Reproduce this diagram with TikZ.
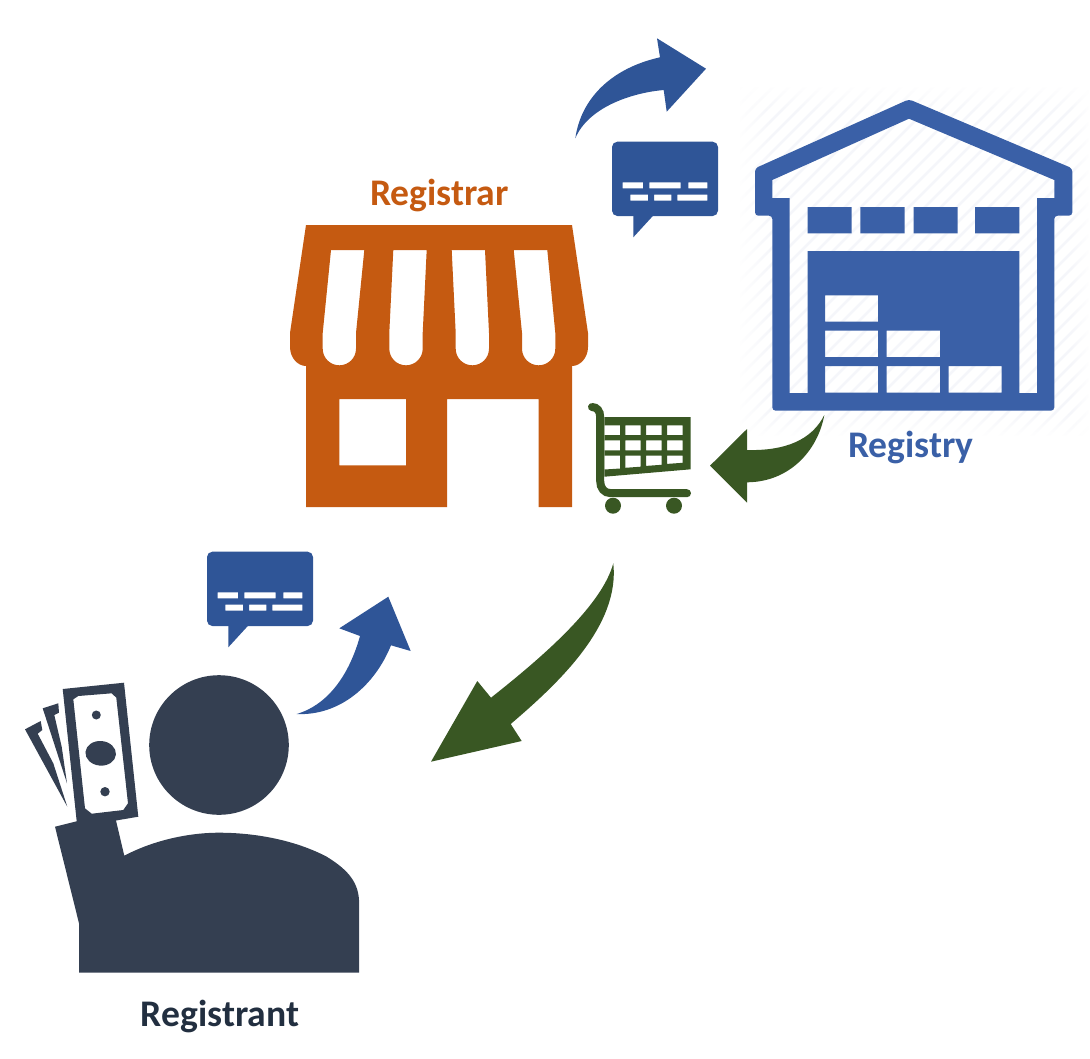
\documentclass[tikz,border=0pt]{standalone}
\usepackage{fontspec}
\usetikzlibrary{fadings}
\setmainfont{Carlito}
\definecolor{shopc}{HTML}{C55A11}
\definecolor{whc}{HTML}{3A60A7}
\definecolor{bluec}{HTML}{2F5597}
\definecolor{greenc}{HTML}{395723}
\definecolor{darkc}{HTML}{343F51}
\definecolor{txtdark}{HTML}{222F40}
\definecolor{hatchc}{HTML}{F5F6FA}
\tikzset{
  label text/.style={font=\fontsize{28.2pt}{30pt}\selectfont\bfseries,anchor=base,inner sep=0pt},
  holes/.style={even odd rule,draw=none}
}
\newcommand\cellbox[4]{(#1,#3) rectangle (#2,#4)}
\newcommand\awnhole[4]{(#1,250) -- (#2,250) -- (#4,333) -- (#4,348.7) .. controls (#4,357.9) and (#3+25.85,365.3) .. (#3+16.65,365.3) .. controls (#3+7.45,365.3) and (#3,357.9) .. (#3,348.7) -- (#3,333) -- cycle}
\newcommand\speech[2]{%
  \begin{scope}[shift={(#1,#2)}]
    \fill[bluec,holes]
      [rounded corners=4pt] (0,0) -- (106,0) -- (106,74.3) -- (0,74.3) -- cycle
      [sharp corners]
      \cellbox{10.7}{31}{40.6}{46.6} \cellbox{37.3}{68.7}{40.6}{46.6} \cellbox{76.3}{95.3}{40.6}{46.6}
      \cellbox{18.3}{36}{53}{59} \cellbox{42}{59.3}{53}{59} \cellbox{65.3}{95.3}{53}{59};
    \fill[bluec] (42,73) -- (21.3,95.6) -- (21.3,73) -- cycle;
  \end{scope}}
\begin{document}
\begin{tikzpicture}[x=0.75pt,y=-0.75pt]
\useasboundingbox (0,0) rectangle (1090,1058);
% registry hatching
\begin{scope}
  \clip (740,87) rectangle (1088,435);
  \foreach \k in {0,...,44}
    \draw[hatchc,line width=2pt] (388+16*\k,440) -- (388+16*\k+360,80);
  \fill[white,path fading=east] (738,85) rectangle (772,437);
  \fill[white,path fading=south] (738,85) rectangle (1090,112);
  \fill[white,path fading=north] (738,412) rectangle (1090,437);
  \fill[white,path fading=west] (1070,85) rectangle (1090,437);
\end{scope}
% warehouse
\fill[whc,holes]
  [rounded corners=1pt] (909,99.3)
  [rounded corners=2.5pt] -- (1072.3,168.3) -- (1072.3,215.7) -- (1054.3,215.7) -- (1054.3,410.7) -- (772.3,410.7) -- (772.3,215.7) -- (755,215.7) -- (755,168.3) -- cycle
  [sharp corners]
  (909,118.7) -- (1054.3,180) -- (1054.3,198) -- (1037,198) -- (1037,393) -- (1019.3,393) -- (1019.3,251) -- (807.7,251) -- (807.7,393) -- (789.7,393) -- (789.7,198) -- (772.3,198) -- (772.3,180) -- cycle
  \cellbox{825}{878}{295.3}{321.7}
  \cellbox{825}{878}{330.7}{357} \cellbox{886.7}{940}{330.7}{357}
  \cellbox{825}{878}{366}{392.7} \cellbox{886.7}{940}{366}{392.7} \cellbox{948.7}{1001.7}{366}{392.7};
\fill[whc] \cellbox{807.7}{851.7}{207}{233.3} \cellbox{860.3}{904.7}{207}{233.3} \cellbox{913.7}{957.7}{207}{233.3} \cellbox{975}{1019.3}{207}{233.3};
% shop
\fill[shopc,holes]
  (306,225) -- (572,225) -- (588,333) -- (588,347) .. controls (588,358) and (580,366) .. (572,366)
  -- (572,507) -- (538.7,507) -- (538.7,399) -- (447,399) -- (447,507) -- (306,507) -- (306,366)
  .. controls (298,366) and (290,358) .. (290,347) -- (290,333) -- cycle
  \awnhole{331}{364.3}{322.7}{356}
  \awnhole{393.3}{426.7}{389.3}{422.7}
  \awnhole{451.7}{485}{455.7}{489}
  \awnhole{513.7}{547.3}{522}{555.3}
  \cellbox{339.3}{406}{399}{465.3};
% cart
\fill[greenc,holes]
  (604.3,417) -- (690.7,417) -- (690.7,469.3) -- (604.3,476.7) -- cycle
  \cellbox{604.7}{620}{425.3}{435} \cellbox{625.3}{640.7}{425.3}{435} \cellbox{646}{661.7}{425.3}{435} \cellbox{667}{682.7}{425.3}{435}
  \cellbox{604.7}{620}{440.3}{450.3} \cellbox{625.3}{640.7}{440.3}{450.3} \cellbox{646}{661.7}{440.3}{450.3} \cellbox{667}{682.7}{440.3}{450.3}
  (604.7,455.7) -- (620,455.7) -- (620,468.5) -- (604.7,469.5) -- cycle
  (625.3,455.7) -- (640.7,455.7) -- (640.7,466.7) -- (625.3,467.8) -- cycle
  (646,455.7) -- (661.7,455.7) -- (661.7,464.8) -- (646,465.9) -- cycle
  (667,455.7) -- (682.7,455.7) -- (682.7,462.8) -- (667,463.9) -- cycle;
\draw[greenc,line width=6pt,line cap=round]
  (592,407) .. controls (597,407) and (600.2,411) .. (600.2,417) -- (600.2,481)
  .. controls (600.2,488) and (604,493.2) .. (611,493.2) -- (687,493.2);
\fill[greenc] (613,505.7) circle[radius=8] (674,505.7) circle[radius=8];
% speech bubbles
\speech{612}{141.7}
\speech{207}{551.7}
% blue arrow, top
\fill[bluec] (575.3,138.3) .. controls (581,98) and (612,68) .. (660,57.3)
  -- (657,38.3) -- (706,68.7) -- (666.7,111.7) -- (663.7,90)
  .. controls (630,93) and (588,108) .. cycle;
% blue arrow, lower
\fill[bluec] (296.7,714) .. controls (330,704) and (350,672) .. (360,636)
  -- (339.3,628.3) -- (388.3,596.7) -- (410.7,651) -- (391,645.3)
  .. controls (375,685) and (340,716) .. cycle;
% green arrow, small
\fill[greenc] (824.3,415) .. controls (812,440) and (785,451) .. (747,450)
  -- (747,429) -- (710,465.7) -- (747,502.7) -- (747,482.3)
  .. controls (790,482) and (818,450) .. cycle;
% green arrow, large
\fill[greenc] (613.3,563.3) .. controls (602,605) and (545,655) .. (491,697.7)
  -- (477.3,681) -- (431,761.7) -- (521.7,741) -- (510.7,724)
  .. controls (560,682) and (620,625) .. cycle;
% person
\fill[darkc] (219,745) circle[radius=69.8];
\fill[darkc,holes]
  (79,972.7) -- (359,972.7) -- (359,900) .. controls (358,880) and (345,868) .. (326.7,856.7)
  .. controls (295,840) and (255,832.7) .. (219,832.7) .. controls (185,832.7) and (150,842) .. (124.3,855.7)
  -- (116,820.5) -- (138.3,816.7) -- (124,682.7) -- (62.7,689) -- (76.7,821.3) -- (55,826.7) -- (79,923.3) -- cycle
  (73.3,699.3) -- (78.3,696) -- (111.7,693.3) -- (116.3,697.7) -- (128,803.3) -- (123.3,810) -- (91.7,813.7) -- (85,808.3) -- cycle;
\fill[darkc] (96.3,715) circle[radius=4.5] (105,791.7) circle[radius=4.7];
\fill[darkc,rotate around={-5:(100.7,753.3)}] (100.7,753.3) ellipse[x radius=15.3,y radius=12.3];
\fill[darkc] (42.7,708.3) -- (58.3,703.3) -- (59,712.7) -- (54.3,715) -- (61.7,746.7) -- (67,783.3) -- cycle;
\fill[darkc] (25,729.3) -- (40.7,721) -- (42.3,730) -- (37.7,733.7) -- (53.3,763.3) -- (67.3,806.7) -- cycle;
% labels
\node[label text,text=shopc] (registrar) at (439.5,205) {Registrar};
\node[label text,text=whc] (registry) at (911,457.5) {Registry};
\node[label text,text=txtdark] (registrant) at (220,1026) {Registrant};
\end{tikzpicture}
\end{document}
